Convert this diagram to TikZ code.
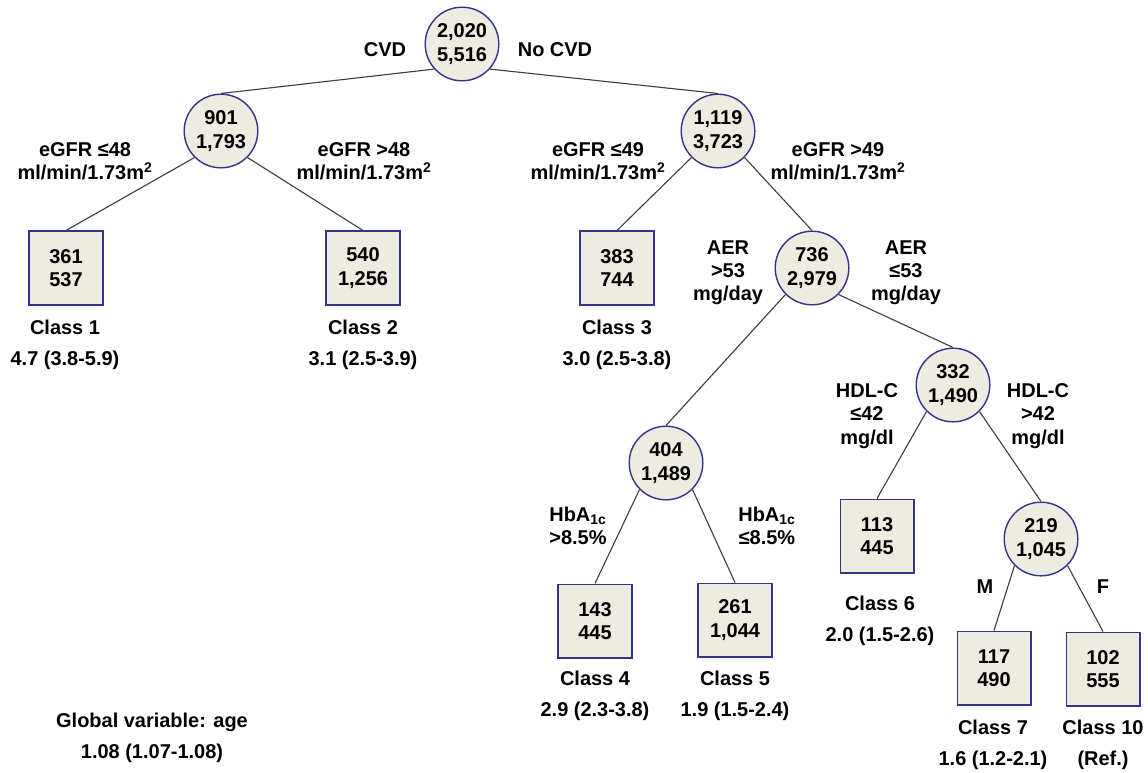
\documentclass[tikz,border=0pt]{standalone}
\usepackage{fontspec}
\setmainfont{Liberation Sans}

\definecolor{nodefill}{RGB}{238,236,225}
\definecolor{nodeline}{RGB}{52,52,140}
\tikzstyle{split}=[draw=nodeline,fill=nodefill,circle,line width=1pt,minimum size=1.84cm,inner sep=0pt,align=center]
\tikzstyle{leaf}=[draw=nodeline,fill=nodefill,rectangle,line width=1pt,minimum size=1.84cm,inner sep=0pt,align=center]
\tikzstyle{cut}=[align=center,inner sep=0pt]
\tikzstyle{edge}=[draw=black!75,line width=0.8pt]

\begin{document}
\begin{tikzpicture}[x=0.025cm,y=-0.025cm,font=\fontsize{14.2}{16.5}\selectfont\bfseries]
	\useasboundingbox (0,0) rectangle (1148,772);

	% split nodes
	\node (S0)[split] at (462,44) {2,020\\5,516};
	\node (S1)[split] at (221,131) {901\\1,793};
	\node (S2)[split] at (718,131) {1,119\\3,723};
	\node (S3)[split] at (812,268) {736\\2,979};
	\node (S4)[split] at (666,463) {404\\1,489};
	\node (S5)[split] at (953,385) {332\\1,490};
	\node (S6)[split] at (1041,539) {219\\1,045};

	% end classes
	\node (C1)[leaf] at (66,268) {361\\537};
	\node (C2)[leaf] at (363,268) {540\\1,256};
	\node (C3)[leaf] at (617,268) {383\\744};
	\node (C4)[leaf] at (595,621) {143\\445};
	\node (C5)[leaf] at (735,620) {261\\1,044};
	\node (C6)[leaf] at (877,536) {113\\445};
	\node (C7)[leaf] at (994,668) {117\\490};
	\node (C10)[leaf] at (1103,669) {102\\555};

	\draw[edge] (S0.222) -- (S1.north);
	\draw[edge] (S0.318) -- (S2.north);
	\foreach \p/\l/\r in {S1/C1/C2, S2/C3/S3, S3/S4/S5, S4/C4/C5, S5/C6/S6, S6/C7/C10}{
		\draw[edge] (\p.south west) -- (\l.north);
		\draw[edge] (\p.south east) -- (\r.north);
	}

	% split rules
	\node (cvd)[cut] at (385,50) {CVD};
	\node (nocvd)[cut] at (555,50) {No CVD};
	\node (g48)[cut] at (85,161) {eGFR ≤48\\ml/min/1.73m\textsuperscript{2}};
	\node (h48)[cut] at (364,161) {eGFR >48\\ml/min/1.73m\textsuperscript{2}};
	\node (g49)[cut] at (598,161) {eGFR ≤49\\ml/min/1.73m\textsuperscript{2}};
	\node (h49)[cut] at (838,161) {eGFR >49\\ml/min/1.73m\textsuperscript{2}};
	\node (aer1)[cut] at (728,273) {AER\\>53\\mg/day};
	\node (aer2)[cut] at (906,273) {AER\\≤53\\mg/day};
	\node (hba1)[cut] at (578,526) {HbA\textsubscript{1c}\\>8.5\%};
	\node (hba2)[cut] at (767,526) {HbA\textsubscript{1c}\\≤8.5\%};
	\node (hdl1)[cut] at (867,416) {HDL-C\\≤42\\mg/dl};
	\node (hdl2)[cut] at (1038,416) {HDL-C\\>42\\mg/dl};
	\node (sexm)[cut] at (985,587) {M};
	\node (sexf)[cut] at (1103,587) {F};

	% class names and odds ratios
	\foreach \n/\x/\y/\v in {1/65/327/4.7 (3.8-5.9), 2/363/327/3.1 (2.5-3.9), 3/617/327/3.0 (2.5-3.8),
		4/595/678/2.9 (2.3-3.8), 5/735/678/1.9 (1.5-2.4), 6/880/603/2.0 (1.5-2.6),
		7/993/727/1.6 (1.2-2.1), 10/1103/727/(Ref.)}{
		\node (K\n)[cut] at (\x,\y) {Class \n};
		\node (V\n)[cut] at (\x,\y+33) {\v};
	}
	\node (glob)[cut] at (152,722) {Global variable: age};
	\node (globv)[cut] at (152,753) {1.08 (1.07-1.08)};
\end{tikzpicture}
\end{document}
